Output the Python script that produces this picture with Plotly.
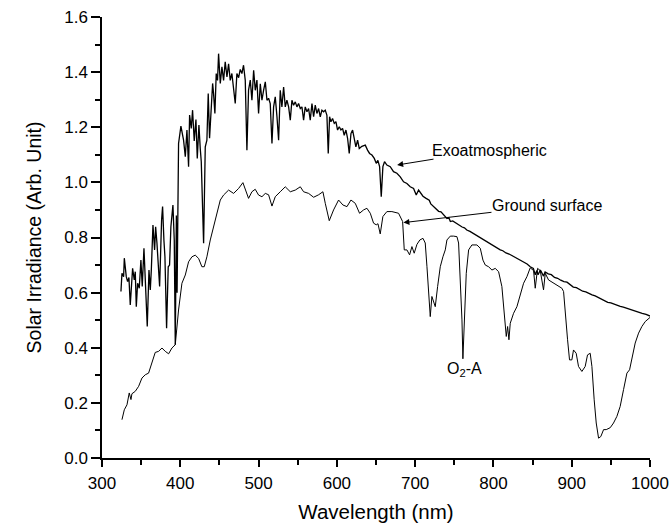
import plotly.graph_objects as go

exo_wl = [324.2, 325.5, 327.6, 328.5, 331.0, 332.7, 334.4, 336.1, 339.1, 341.2, 342.5, 343.8, 345.5, 347.6,
          349.7, 351.4, 353.6, 355.7, 357.8, 360.0, 361.7, 363.0, 365.1, 367.2, 368.5, 370.2, 371.9, 373.6,
          376.1, 377.4, 379.1, 380.4, 382.5, 384.6, 386.3, 388.0, 390.6, 392.3, 393.6, 395.0, 395.9, 397.8,
          400.8, 404.2, 406.4, 408.5, 410.6, 411.9, 414.0, 415.7, 417.8, 420.0, 421.7, 423.8, 425.5, 426.8,
          429.8, 431.9, 434.0, 435.7, 437.4, 439.6, 441.3, 442.5, 444.2, 445.9, 447.6, 448.9, 451.1, 453.2,
          455.3, 457.4, 459.6, 461.7, 463.8, 465.9, 468.1, 470.2, 472.3, 474.5, 476.6, 478.7, 480.8, 483.0,
          485.1, 487.2, 489.4, 491.5, 493.7, 495.8, 497.9, 500.0, 502.2, 504.3, 506.4, 508.6, 510.7, 512.8,
          514.9, 517.1, 519.2, 521.3, 523.5, 525.6, 527.7, 529.8, 532.0, 534.1, 536.2, 538.4, 540.5, 542.6,
          544.7, 546.9, 549.0, 551.1, 553.3, 555.4, 557.5, 559.6, 561.8, 563.9, 566.0, 568.2, 570.3, 572.4,
          574.5, 576.7, 578.8, 580.9, 583.1, 585.2, 587.3, 589.0, 590.7, 592.4, 594.5, 596.7, 598.8, 600.9,
          603.1, 605.2, 607.3, 609.4, 611.6, 613.7, 615.8, 618.0, 620.1, 622.2, 624.3, 626.5, 628.6, 632.0,
          636.3, 639.2, 641.8, 644.8, 647.8, 650.3, 652.4, 654.6, 656.7, 658.8, 660.9, 663.9, 668.2, 672.4,
          676.7, 681.0, 685.2, 689.5, 693.7, 698.0, 701.4, 704.4, 710.0, 714.0, 718.0, 720.0, 723.6, 727.0,
          730.0, 733.0, 737.0, 740.6, 743.0, 745.0, 748.0, 752.0, 756.0, 760.0, 763.0, 766.0, 770.0, 774.0,
          778.0, 782.0, 787.4, 791.0, 795.0, 799.0, 803.0, 808.7, 812.0, 816.0, 820.0, 825.0, 830.0, 834.0,
          838.0, 843.0, 847.0, 851.0, 853.4, 855.5, 857.0, 860.0, 864.0, 866.0, 870.0, 874.0, 878.0, 882.0,
          886.0, 890.0, 894.0, 898.0, 902.0, 906.0, 910.0, 914.0, 918.0, 922.0, 926.0, 930.0, 934.0, 938.0,
          942.0, 946.0, 950.0, 954.0, 958.0, 962.0, 966.0, 970.0, 975.0, 980.0, 985.0, 990.0, 995.0, 1000.0]
exo_val = [0.604, 0.670, 0.658, 0.725, 0.658, 0.640, 0.655, 0.555, 0.688, 0.646, 0.676, 0.549, 0.634, 0.616,
           0.718, 0.622, 0.761, 0.634, 0.477, 0.682, 0.610, 0.682, 0.845, 0.755, 0.839, 0.779, 0.694, 0.622,
           0.863, 0.912, 0.790, 0.730, 0.471, 0.694, 0.700, 0.839, 0.918, 0.790, 0.411, 0.880, 0.600, 1.141,
           1.204, 1.153, 1.093, 1.190, 1.057, 1.244, 1.196, 1.262, 1.150, 1.228, 1.087, 1.208, 1.123, 1.075,
           0.779, 1.129, 1.153, 1.322, 1.160, 1.274, 1.359, 1.322, 1.250, 1.395, 1.370, 1.467, 1.359, 1.419,
           1.370, 1.437, 1.383, 1.430, 1.370, 1.395, 1.347, 1.286, 1.395, 1.380, 1.410, 1.395, 1.425, 1.370,
           1.117, 1.335, 1.371, 1.298, 1.407, 1.334, 1.371, 1.250, 1.358, 1.298, 1.334, 1.365, 1.298, 1.305,
           1.286, 1.141, 1.274, 1.310, 1.238, 1.153, 1.334, 1.274, 1.346, 1.274, 1.298, 1.274, 1.226, 1.298,
           1.280, 1.292, 1.274, 1.286, 1.268, 1.274, 1.226, 1.274, 1.256, 1.268, 1.226, 1.286, 1.238, 1.280,
           1.250, 1.268, 1.238, 1.262, 1.256, 1.262, 1.243, 1.105, 1.238, 1.220, 1.232, 1.214, 1.220, 1.190,
           1.202, 1.190, 1.196, 1.171, 1.190, 1.160, 1.105, 1.177, 1.190, 1.153, 1.129, 1.153, 1.123, 1.131,
           1.135, 1.117, 1.105, 1.099, 1.087, 1.069, 1.080, 1.057, 0.948, 1.057, 1.075, 1.063, 1.057, 1.039,
           1.033, 1.020, 1.002, 0.996, 0.984, 0.978, 0.954, 0.972, 0.950, 0.942, 0.935, 0.922, 0.912, 0.905,
           0.895, 0.893, 0.880, 0.869, 0.872, 0.858, 0.860, 0.852, 0.845, 0.838, 0.835, 0.827, 0.822, 0.815,
           0.810, 0.800, 0.791, 0.786, 0.778, 0.772, 0.765, 0.755, 0.752, 0.744, 0.740, 0.732, 0.725, 0.718,
           0.712, 0.704, 0.694, 0.688, 0.665, 0.680, 0.665, 0.682, 0.660, 0.675, 0.668, 0.665, 0.655, 0.652,
           0.645, 0.640, 0.638, 0.628, 0.620, 0.618, 0.612, 0.605, 0.603, 0.596, 0.592, 0.588, 0.582, 0.578,
           0.570, 0.565, 0.563, 0.558, 0.555, 0.550, 0.547, 0.543, 0.540, 0.533, 0.529, 0.525, 0.521, 0.515]

ground_wl = [325.5, 328.5, 331.9, 334.8, 337.0, 338.2, 342.5, 346.8, 351.0, 355.3, 359.5, 363.8, 368.0, 372.3,
             376.6, 380.8, 385.1, 389.3, 393.6, 397.8, 402.1, 406.4, 410.6, 414.9, 419.1, 423.4, 427.6, 430.6,
             434.0, 438.3, 442.5, 446.8, 451.1, 455.3, 461.7, 468.1, 474.5, 480.0, 483.0, 487.2, 491.5, 495.7,
             500.0, 504.3, 508.6, 512.8, 517.1, 521.3, 527.7, 534.1, 540.5, 546.9, 553.3, 557.5, 563.9, 570.3,
             576.7, 582.2, 585.2, 590.3, 595.8, 602.2, 607.7, 612.9, 618.0, 623.5, 629.0, 634.1, 638.4, 642.7,
             646.9, 650.3, 652.5, 655.4, 658.8, 663.9, 670.3, 678.8, 684.0, 686.1, 689.5, 692.9, 695.9, 698.8,
             702.3, 706.0, 710.0, 712.9, 715.1, 717.2, 719.3, 721.4, 723.6, 725.7, 728.7, 732.1, 735.5, 738.5,
             740.6, 744.9, 749.1, 753.4, 755.5, 757.6, 759.8, 761.0, 763.2, 765.3, 768.3, 772.5, 778.9, 783.2,
             786.6, 789.6, 793.8, 798.1, 802.3, 806.6, 810.8, 813.8, 816.4, 818.1, 819.8, 821.5, 823.6, 825.7,
             830.0, 834.3, 838.5, 842.8, 847.0, 851.3, 853.4, 856.4, 859.8, 864.0, 866.2, 870.4, 876.8, 883.2,
             887.4, 889.6, 891.7, 894.7, 897.2, 900.2, 902.3, 905.7, 908.7, 913.0, 917.2, 920.2, 923.6, 925.8,
             928.7, 931.3, 934.3, 937.2, 940.7, 944.1, 949.2, 953.4, 957.7, 961.9, 966.2, 970.5, 973.9, 976.8,
             981.1, 985.4, 989.6, 993.9, 998.1, 1000.0]
ground_val = [0.139, 0.175, 0.193, 0.236, 0.212, 0.233, 0.242, 0.260, 0.290, 0.302, 0.308, 0.344, 0.383, 0.387,
              0.399, 0.387, 0.378, 0.399, 0.411, 0.537, 0.634, 0.664, 0.712, 0.730, 0.736, 0.724, 0.694, 0.694,
              0.730, 0.791, 0.839, 0.887, 0.936, 0.954, 0.972, 0.960, 0.978, 0.999, 0.978, 0.942, 0.966, 0.975,
              0.954, 0.948, 0.960, 0.955, 0.914, 0.948, 0.966, 0.984, 0.966, 0.972, 0.984, 0.966, 0.960, 0.946,
              0.955, 0.966, 0.924, 0.861, 0.900, 0.936, 0.918, 0.912, 0.936, 0.924, 0.888, 0.900, 0.906, 0.888,
              0.852, 0.846, 0.850, 0.813, 0.876, 0.894, 0.894, 0.888, 0.858, 0.755, 0.755, 0.737, 0.767, 0.743,
              0.775, 0.791, 0.797, 0.780, 0.694, 0.610, 0.513, 0.586, 0.562, 0.549, 0.622, 0.694, 0.730, 0.755,
              0.791, 0.805, 0.805, 0.803, 0.780, 0.646, 0.501, 0.360, 0.525, 0.670, 0.755, 0.773, 0.773, 0.761,
              0.718, 0.700, 0.694, 0.682, 0.688, 0.676, 0.622, 0.525, 0.441, 0.477, 0.429, 0.489, 0.510, 0.525,
              0.549, 0.592, 0.634, 0.658, 0.690, 0.680, 0.616, 0.688, 0.680, 0.610, 0.670, 0.646, 0.634, 0.622,
              0.616, 0.604, 0.525, 0.429, 0.356, 0.356, 0.392, 0.380, 0.332, 0.314, 0.332, 0.374, 0.380, 0.332,
              0.211, 0.127, 0.072, 0.078, 0.103, 0.103, 0.110, 0.127, 0.151, 0.187, 0.248, 0.308, 0.320, 0.356,
              0.417, 0.453, 0.477, 0.495, 0.507, 0.510]

x_ticks = [300, 400, 500, 600, 700, 800, 900, 1000]
y_ticks = [0.0, 0.2, 0.4, 0.6, 0.8, 1.0, 1.2, 1.4, 1.6]
y_labels = ["0.0", "0.2", "0.4", "0.6", "0.8", "1.0", "1.2", "1.4", "1.6"]

FONT = "Liberation Sans, Arial, sans-serif"

fig = go.Figure()
fig.add_trace(go.Scatter(x=exo_wl, y=exo_val, mode="lines", name="Exoatmospheric",
                         line=dict(color="black", width=1.3)))
fig.add_trace(go.Scatter(x=ground_wl, y=ground_val, mode="lines", name="Ground surface",
                         line=dict(color="black", width=1.0)))

# labelled arrows: head on the curve, text box at (ax, ay)
fig.add_annotation(x=677, y=1.063, ax=794.6, ay=1.117, xref="x", yref="y", axref="x", ayref="y",
                   text="Exoatmospheric", showarrow=True, arrowhead=2, arrowsize=1.2, arrowwidth=1,
                   arrowcolor="black", standoff=0, borderpad=0,
                   font=dict(family=FONT, size=16, color="black"))
fig.add_annotation(x=685, y=0.854, ax=868.4, ay=0.915, xref="x", yref="y", axref="x", ayref="y",
                   text="Ground surface", showarrow=True, arrowhead=2, arrowsize=1.2, arrowwidth=1,
                   arrowcolor="black", standoff=0, borderpad=0,
                   font=dict(family=FONT, size=16, color="black"))
fig.add_annotation(x=763, y=0.322, xref="x", yref="y", text="O<sub>2</sub>-A", showarrow=False,
                   xanchor="center", yanchor="middle", font=dict(family=FONT, size=16, color="black"))

axis_common = dict(showgrid=False, zeroline=False, showline=True, linecolor="black", linewidth=1.5,
                   ticks="outside", tickcolor="black", tickwidth=1.5, automargin=False,
                   tickfont=dict(family=FONT, size=17, color="black"))

fig.update_xaxes(range=[300, 1000], tickvals=x_ticks, ticklen=7, ticklabelstandoff=2,
                 minor=dict(dtick=50, ticks="outside", ticklen=5, tickcolor="black", tickwidth=1.5),
                 title=dict(text="Wavelength (nm)", font=dict(family=FONT, size=20.5, color="black"), standoff=12),
                 **axis_common)
fig.update_yaxes(range=[0, 1.6], tickvals=y_ticks, ticktext=y_labels, ticklen=9,
                 minor=dict(dtick=0.1, ticks="outside", ticklen=5, tickcolor="black", tickwidth=1.5),
                 title=dict(text="Solar Irradiance (Arb. Unit)", font=dict(family=FONT, size=19.5, color="black"), standoff=17),
                 **axis_common)

fig.update_layout(width=672, height=529, showlegend=False,
                  plot_bgcolor="white", paper_bgcolor="white",
                  margin=dict(l=102, r=22, t=17, b=71),
                  font=dict(family=FONT, color="black"))

fig.write_html("out.html")
